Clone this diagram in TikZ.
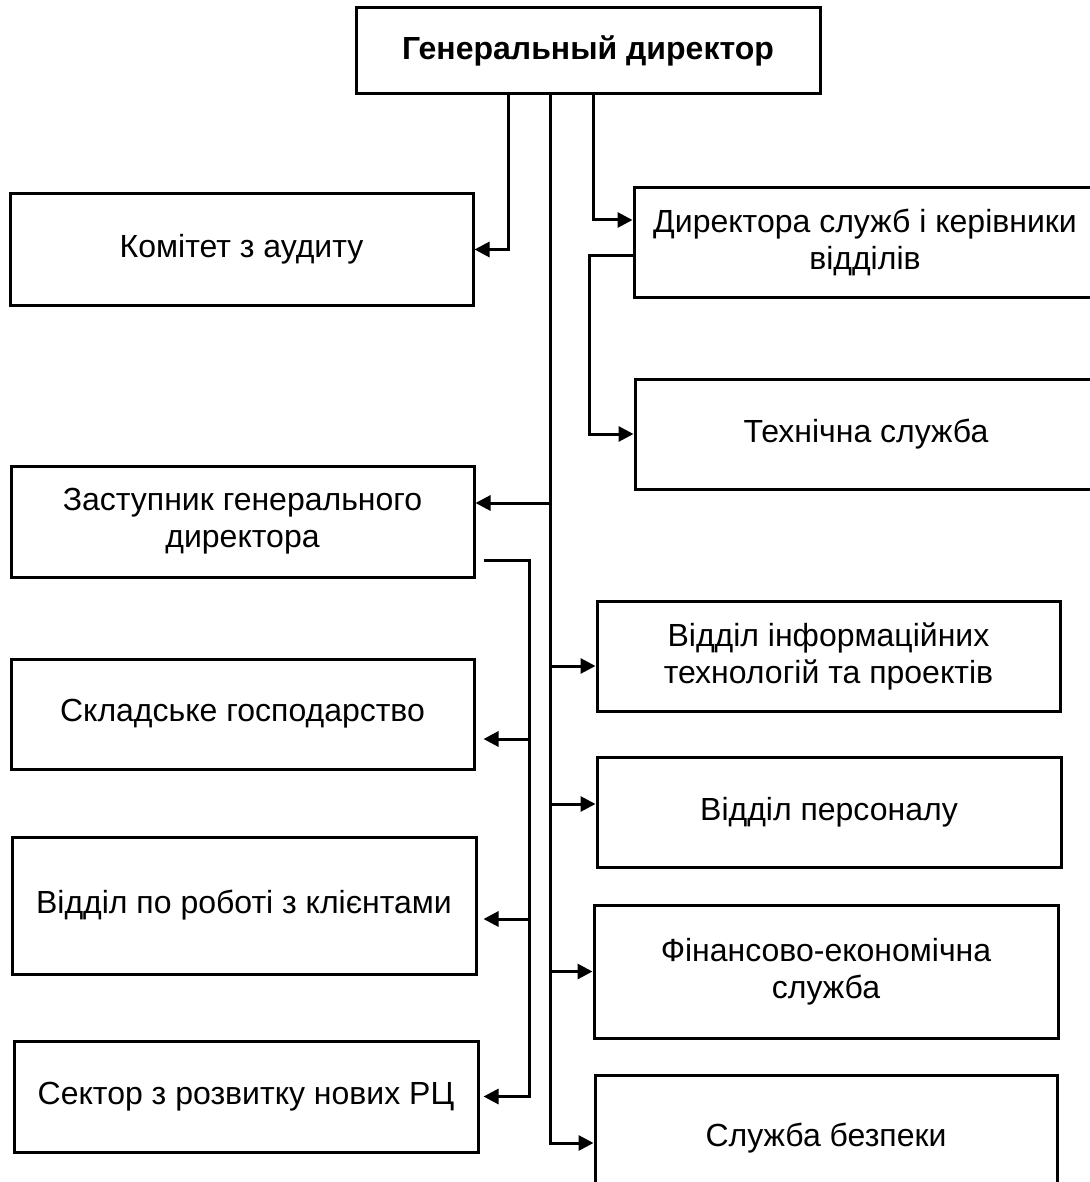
\documentclass[tikz,border=0pt]{standalone}
\usepackage{fontspec}
\setmainfont{Liberation Sans}
\usetikzlibrary{arrows.meta}

\begin{document}
\begin{tikzpicture}[x=1pt,y=-1pt,
    box/.style={draw,line width=3pt,minimum width=463pt,minimum height=110pt,
      inner sep=0pt,align=center,font=\fontsize{32}{37}\selectfont},
    arr/.style={line width=3pt,-{Triangle[length=15pt,width=15pt]}},
    bus/.style={line width=3pt}]
    % Fix the page
    \useasboundingbox (0,0) rectangle (1089,1182);

    % Draw top box
    \node[box,minimum width=464pt,minimum height=86pt,
      font=\fontsize{32}{37}\selectfont\bfseries] (gd) at (588,51) {Генеральный директор};

    % Draw left column
    \node[box,minimum height=111pt] (audit) at (241.5,249.5) {Комітет з аудиту};
    \node[box,minimum height=111pt] (depgd) at (242.5,521.5) {Заступник генерального\\директора};
    \node[box] (store) at (242.5,714) {Складське господарство};
    \node[box,minimum width=464pt,minimum height=137pt] (client) at (244,905.5) {Відділ по роботі з клієнтами};
    \node[box,minimum width=464pt,minimum height=111pt] (rc) at (246,1096.5) {Сектор з розвитку нових РЦ};

    % Draw right column
    \node[box,minimum width=462pt,minimum height=109pt] (dirs) at (865,242.5) {Директора служб і керівники\\відділів};
    \node[box,minimum width=462pt] (tech) at (866,434) {Технічна служба};
    \node[box] (it) at (828.5,656) {Відділ інформаційних\\технологій та проектів};
    \node[box,minimum width=464pt] (hr) at (829,812) {Відділ персоналу};
    \node[box,minimum width=464pt,minimum height=133pt] (fin) at (826,971.5) {Фінансово-економічна\\служба};
    \node[box,minimum width=462pt,minimum height=126pt] (sec) at (826,1138) {Служба безпеки};

    % Entry and exit points
    \coordinate (trunk) at ([xshift=-38pt]gd.south);
    \coordinate (depin) at ([yshift=18.5pt]depgd.east);
    \coordinate (dirsin) at ([yshift=22.5pt]dirs.west);
    \coordinate (dirsout) at ([yshift=-12.5pt]dirs.west);
    \coordinate (itin) at ([yshift=-10pt]it.west);
    \coordinate (hrin) at ([yshift=8pt]hr.west);
    \coordinate (secin) at ([yshift=-5pt]sec.west);
    \coordinate (depout) at ([xshift=8pt,yshift=-38.5pt]depgd.east);
    \coordinate (depbus) at ([xshift=54pt,yshift=-38.5pt]depgd.east);
    \coordinate (storein) at ([xshift=8pt,yshift=-25pt]store.east);
    \coordinate (clientin) at ([xshift=6pt,yshift=-13.5pt]client.east);
    \coordinate (rcin) at ([xshift=4pt]rc.east);

    % Draw links from the top box
    \draw[arr] ([xshift=-80pt]gd.south) |- (audit.east);
    \draw[arr] ([xshift=5pt]gd.south) |- (dirsin);
    \draw[arr] (dirsout) -- ++(-43,0) |- (tech.west);

    % Draw main trunk and its branches
    \draw[arr] (trunk) |- (secin);
    \draw[arr] (trunk |- depin) -- (depin);
    \draw[arr] (trunk |- itin) -- (itin);
    \draw[arr] (trunk |- hrin) -- (hrin);
    \draw[arr] (trunk |- fin.west) -- (fin.west);

    % Draw links from the deputy
    \draw[arr] (depout) -- (depbus) |- (rcin);
    \draw[arr] (depbus |- storein) -- (storein);
    \draw[arr] (depbus |- clientin) -- (clientin);
\end{tikzpicture}
\end{document}
